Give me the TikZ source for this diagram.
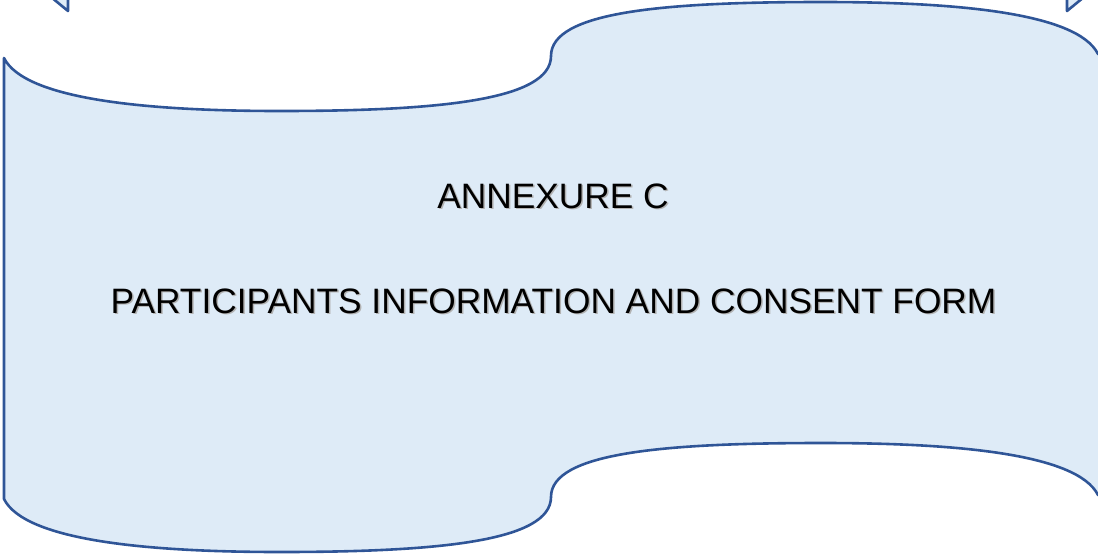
\documentclass[tikz,border=0pt]{standalone}
\usepackage{fontspec}
\setmainfont{Liberation Sans}
\definecolor{wavefill}{RGB}{222,235,247}
\definecolor{waveline}{RGB}{47,85,151}
\begin{document}
\begin{tikzpicture}[x=1pt,y=-1pt,
  edge/.style={draw=waveline,line width=2.6pt,line join=round},
  caption/.style={font=\fontsize{35.3}{42}\selectfont,inner sep=0pt,anchor=base},
  drop/.style={caption,text=black!30}]
\useasboundingbox (0,0) rectangle (1098,555);
\clip (0,0) rectangle (1098,555);
% wave banner
\path[edge,fill=wavefill]
  (4,58) .. controls (25,100) and (150,111) .. (280,111)
  .. controls (440,111) and (551,100) .. (551,56)
  .. controls (551,12) and (662,2) .. (822,2)
  .. controls (952,2) and (1077,12) .. (1098,54)
  -- (1104,54) -- (1104,495) -- (1098,495)
  .. controls (1077,453) and (952,443) .. (822,443)
  .. controls (662,443) and (551,453) .. (551,497)
  .. controls (551,541) and (440,552) .. (280,552)
  .. controls (150,552) and (25,541) .. (4,499)
  -- cycle;
% arrow tips reaching in from above
\path[fill=wavefill] (51,-3) -- (68,11) -- (68,-3) -- cycle;
\draw[edge] (51,-3) -- (68,11) -- (68,-3);
\path[fill=wavefill] (1067,-3) -- (1067,11) -- (1084,-3) -- cycle;
\draw[edge] (1067,-3) -- (1067,11) -- (1084,-3);
% titles with soft shadow
\node[drop] (annexdrop) at (554.5,209.5) {ANNEXURE C};
\node[caption] (annex) at (553,208) {ANNEXURE C};
\node[drop] (formdrop) at (555,314.5) {PARTICIPANTS INFORMATION AND CONSENT FORM};
\node[caption] (form) at (553.5,313) {PARTICIPANTS INFORMATION AND CONSENT FORM};
\end{tikzpicture}
\end{document}
